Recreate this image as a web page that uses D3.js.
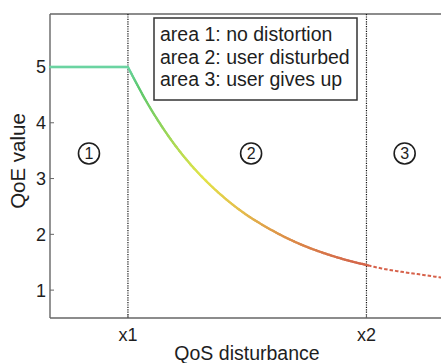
<!DOCTYPE html>
<html>
<head>
<meta charset="utf-8">
<script src="https://cdn.jsdelivr.net/npm/d3@7"></script>
<style>
  html, body { margin: 0; padding: 0; background: #fff; }
  svg { display: block; }
  text { font-family: "Liberation Sans", Arial, sans-serif; fill: #1e1e1e; }
</style>
</head>
<body>
<svg id="chart" width="441" height="363"></svg>
<script>
// QoS disturbance (arbitrary units) and resulting QoE
const qos = [0, 0.5, 1, 1.25, 1.5, 1.75, 2, 2.25, 2.5, 2.75, 3, 3.25, 3.5, 3.75, 4, 4.06, 4.25, 4.5, 4.75, 5, 5.25];
const qoe = [5, 5, 5, 4.35, 3.80, 3.34, 2.96, 2.64, 2.37, 2.15, 1.96, 1.80, 1.67, 1.56, 1.47, 1.45, 1.39, 1.33, 1.28, 1.23, 1.19];

// thresholds between the three areas
const thresholds = [1, 4.06];
const thresholdLabels = ["x1", "x2"];
const areaCentres = [0.5, 2.58, 4.55];
const areaLabels = ["1", "2", "3"];
const areaLabelLevel = 3.45;

const yTicks = [1, 2, 3, 4, 5];
const legendLines = ["area 1: no distortion", "area 2: user disturbed", "area 3: user gives up"];

const svg = d3.select("#chart");
const mLeft = 50, mTop = 14, mBottom = 318, mRight = 460;

const x = d3.scaleLinear().domain([0, 5.26]).range([mLeft, mRight]);
const y = d3.scaleLinear().domain([0.5, 5.95]).range([mBottom, mTop]);

// colour of the curve follows the QoE level
const colour = d3.scaleLinear()
  .domain([1.2, 1.5, 1.9, 2.4, 3.0, 3.8, 4.6, 5])
  .range(["#d85a4a", "#d4684a", "#dc8c48", "#e4bc4c", "#e2e448", "#9ad658", "#5cc86e", "#6cd4a2"]);

// frame
const frame = svg.append("g").attr("stroke", "#666").attr("stroke-width", 1.4);
frame.append("line").attr("x1", mLeft).attr("x2", mLeft).attr("y1", mTop).attr("y2", mBottom);
frame.append("line").attr("x1", mLeft).attr("x2", 441).attr("y1", mTop).attr("y2", mTop);
frame.append("line").attr("x1", mLeft).attr("x2", 441).attr("y1", mBottom).attr("y2", mBottom);

// y axis ticks and labels
yTicks.forEach(t => {
  svg.append("line").attr("x1", mLeft).attr("x2", mLeft + 4)
    .attr("y1", y(t)).attr("y2", y(t)).attr("stroke", "#666").attr("stroke-width", 1);
  svg.append("text").attr("x", mLeft - 4).attr("y", y(t)).attr("dy", "0.36em")
    .attr("text-anchor", "end").style("font-size", "18px").text(t);
});

// threshold lines and labels
thresholds.forEach((t, i) => {
  svg.append("line").attr("x1", x(t)).attr("x2", x(t)).attr("y1", mTop).attr("y2", mBottom)
    .attr("stroke", "#111").attr("stroke-width", 1.2).attr("stroke-dasharray", "1.2,1.2");
  svg.append("line").attr("x1", x(t)).attr("x2", x(t)).attr("y1", mBottom).attr("y2", mBottom - 4)
    .attr("stroke", "#666");
  svg.append("text").attr("x", x(t)).attr("y", 341).attr("text-anchor", "middle")
    .style("font-size", "18px").text(thresholdLabels[i]);
});

// flat part straight, decay part smooth, so the corner at x1 stays sharp
const iKnee = qos.indexOf(thresholds[0]);
const flatLine = d3.line().x(d => x(d[0])).y(d => y(d[1]));
const decayLine = d3.line().x(d => x(d[0])).y(d => y(d[1])).curve(d3.curveMonotoneX);
const pts = qos.map((q, i) => [q, qoe[i]]);
const fullPath = svg.append("path")
  .attr("d", flatLine(pts.slice(0, iKnee + 1)) + decayLine(pts.slice(iKnee)))
  .attr("fill", "none").attr("stroke", "none");
const node = fullPath.node();
const totalLen = node.getTotalLength();
const step = 2;
const pieces = [];
for (let s = 0; s < totalLen; s += step) {
  const p0 = node.getPointAtLength(s);
  const p1 = node.getPointAtLength(Math.min(s + step, totalLen));
  pieces.push([p0, p1]);
}
const xSplit = x(thresholds[1]);
const solid = svg.append("g").attr("fill", "none").attr("stroke-width", 2.3).attr("stroke-linecap", "round");
pieces.filter(p => p[0].x < xSplit).forEach(p => {
  solid.append("line").attr("x1", p[0].x).attr("y1", p[0].y).attr("x2", p[1].x).attr("y2", p[1].y)
    .attr("stroke", colour(y.invert((p[0].y + p[1].y) / 2)));
});
// dashed continuation beyond x2
const tail = pieces.filter(p => p[0].x >= xSplit);
if (tail.length) {
  const tailLine = d3.line().x(d => d.x).y(d => d.y);
  const tp = tail.map(p => p[0]).concat([tail[tail.length - 1][1]]);
  svg.append("path").attr("d", tailLine(tp)).attr("fill", "none")
    .attr("stroke", colour(1.35)).attr("stroke-width", 2).attr("stroke-dasharray", "3.5,2");
}

// area markers
areaCentres.forEach((c, i) => {
  svg.append("circle").attr("cx", x(c)).attr("cy", y(areaLabelLevel)).attr("r", 10.5)
    .attr("fill", "none").attr("stroke", "#1e1e1e").attr("stroke-width", 1.6);
  svg.append("text").attr("x", x(c)).attr("y", y(areaLabelLevel)).attr("dy", "0.36em")
    .attr("text-anchor", "middle").style("font-size", "16px").text(areaLabels[i]);
});

// legend box
svg.append("rect").attr("x", 154).attr("y", 18).attr("width", 203).attr("height", 82)
  .attr("fill", "#fff").attr("stroke", "#333").attr("stroke-width", 1.5);
legendLines.forEach((t, i) => {
  svg.append("text").attr("x", 160).attr("y", 41 + i * 22.5).style("font-size", "19.5px").text(t);
});

// axis titles
svg.append("text").attr("x", 247).attr("y", 360).attr("text-anchor", "middle")
  .style("font-size", "19.5px").text("QoS disturbance");
svg.append("text").attr("transform", "translate(25," + 161 + ") rotate(-90)")
  .attr("text-anchor", "middle").style("font-size", "20.5px").text("QoE value");
</script>
</body>
</html>
